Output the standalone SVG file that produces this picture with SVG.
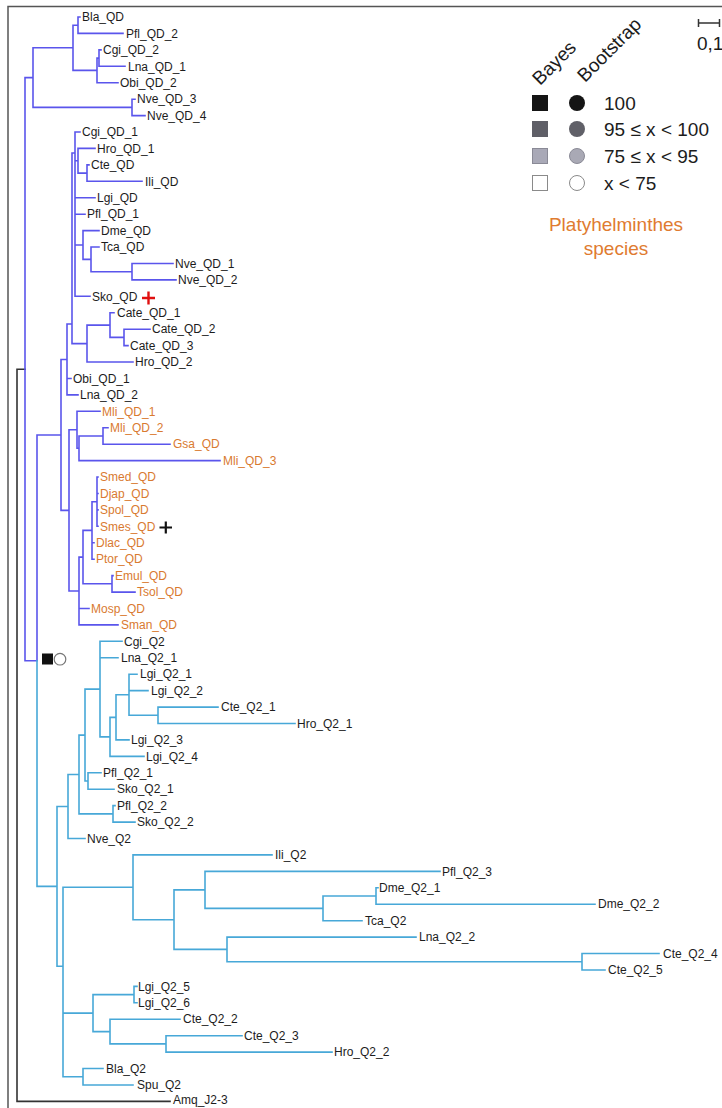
<svg xmlns="http://www.w3.org/2000/svg" width="722" height="1108" viewBox="0 0 722 1108">
<style>
text{font-family:"Liberation Sans",Arial,sans-serif}
.t{font-size:12px;fill:#1c1c1c}
.o{font-size:12px;fill:#d97a30}
.lg{font-size:19px;fill:#1c1c1c}
.sp{font-size:19px;fill:#e07b30;text-anchor:middle}
.qd{fill:none;stroke:#5a55ec;stroke-width:1.6;stroke-linecap:square}
.q2{fill:none;stroke:#47a8d8;stroke-width:1.6;stroke-linecap:square}
.rt{fill:none;stroke:#333;stroke-width:1.6;stroke-linecap:square}
</style>
<rect width="722" height="1108" fill="#fff"/>
<path d="M8,1108V6.5H722" fill="none" stroke="#555" stroke-width="1.5"/>
<g id="connectors">
<path class="rt" d="M17,369.2H25M17,369.2V1101.4H170"/>
<path class="qd" d="M25,77.6V660.7H37M25,77.6H33M33,47.8V107.4M33,47.8H73M73,25.2V70.4M73,25.2H78M78,17V33.4M78,17H80M78,33.4H123M73,70.4H97M97,58.1V82.7M97,58.1H99M99,49.9V66.3M99,49.9H101M99,66.3H125M97,82.7H118M33,107.4H132M132,99.2V115.6M132,99.2H135M132,115.6H145
M37,435V660.7M37,435H61M61,359.5V510.4M61,359.5H67M67,324V394.9M67,378.5H71M67,394.9H78M67,324H72M72,153V343.6M72,153H75M72,343.6H87
M87,325.1V362M87,325.1H110M110,312.7V337.4M110,312.7H114M110,337.4H124M124,329.2V345.6M124,329.2H150M124,345.6H128M87,362H133
M75,132V296.3M75,132H80M75,160.8H78M78,148.4V173.1M78,148.4H95M78,173.1H87M87,164.9V181.3M87,164.9H89M87,181.3H142M75,197.7H95M75,214.2H85M75,245H83M83,230.6V259.4M83,230.6H99M83,259.4H91M91,247V271.7M91,247H99M91,271.7H132M132,263.5V279.9M132,263.5H173M132,279.9H176M75,296.3H90
M61,510.4H69M69,429.8V591M69,429.8H77M77,411.3V448.3M77,411.3H100M77,448.3H79M79,436V460.6M79,436H103M103,427.8V444.2M103,427.8H108M103,444.2H170M79,460.6H220
M69,591H79M79,557.1V624.9M79,557.1H83M83,530.4V583.8M83,530.4H92M92,501.7V559.2M92,501.7H97M97,477V526.3M97,477H98M97,493.5H98M97,509.9H98M97,526.3H98M92,542.8H94M92,559.2H94M83,583.8H112M112,575.6V592.1M112,575.6H113M112,592.1H135M79,608.5H89M79,624.9H118"/>
<path class="q2" d="M37,660.7V886.4H57M57,806.5V966.2M57,806.5H68M68,774.5V838.5M68,838.5H85M68,774.5H79M79,735.1V813.9M79,735.1H85M85,689.1V781M85,689.1H100M100,641.3V736.9M100,641.3H122M100,657.8H118M100,736.9H110M110,717.4V756.4M110,756.4H144M110,717.4H116M116,694.8V739.9M116,739.9H129M116,694.8H129M129,674.2V715.3M129,674.2H137M129,690.6H148M129,715.3H158M158,707.1V723.5M158,707.1H218M158,723.5H295M85,781H88M88,772.8V789.2M88,772.8H101M88,789.2H114M79,813.9H113M113,805.6V822.1M113,805.6H115M113,822.1H135
M57,966.2H63M63,887.3V1076.8M63,887.3H133M133,854.9V919.7M133,854.9H272M133,919.7H174M174,889.9V949.4M174,889.9H205M205,871.4V908.4M205,871.4H440M205,908.4H323M323,896V920.7M323,896H376M376,887.8V904.2M376,887.8H378M376,904.2H595M323,920.7H362M174,949.4H227M227,937.1V961.8M227,937.1H416M227,961.8H582M582,953.5V970M582,953.5H659M582,970H605
M63,1013.1H93M93,994.6V1031.6M93,994.6H134M134,986.4V1002.8M134,986.4H137M134,1002.8H137M93,1031.6H110M110,1019.2V1043.9M110,1019.2H180M110,1043.9H166M166,1035.7V1052.1M166,1035.7H242M166,1052.1H332M63,1076.8H83M83,1068.5V1085M83,1068.5H103M83,1085H133"/>
</g>
<g id="support-node">
<rect x="42" y="653.5" width="11" height="11" fill="#111"/>
<circle cx="60" cy="659.2" r="5.8" fill="#fff" stroke="#777" stroke-width="1.2"/>
</g>
<g id="marks">
<path d="M142,298H155M148.5,291.5V304.5" stroke="#e01010" stroke-width="2.4" fill="none"/>
<path d="M159.5,527.5H172M165.8,521.5V533.5" stroke="#111" stroke-width="2.2" fill="none"/>
</g>
<g id="leaves">
<g id="n-Bla_QD"><text class="t" x="82" y="21.2">Bla_QD</text></g>
<g id="n-Pfl_QD_2"><text class="t" x="126" y="37.6">Pfl_QD_2</text></g>
<g id="n-Cgi_QD_2"><text class="t" x="103" y="54.1">Cgi_QD_2</text></g>
<g id="n-Lna_QD_1"><text class="t" x="128" y="70.5">Lna_QD_1</text></g>
<g id="n-Obi_QD_2"><text class="t" x="120" y="86.9">Obi_QD_2</text></g>
<g id="n-Nve_QD_3"><text class="t" x="137" y="103.4">Nve_QD_3</text></g>
<g id="n-Nve_QD_4"><text class="t" x="147" y="119.8">Nve_QD_4</text></g>
<g id="n-Cgi_QD_1"><text class="t" x="82" y="136.2">Cgi_QD_1</text></g>
<g id="n-Hro_QD_1"><text class="t" x="97" y="152.6">Hro_QD_1</text></g>
<g id="n-Cte_QD"><text class="t" x="91" y="169.1">Cte_QD</text></g>
<g id="n-Ili_QD"><text class="t" x="145" y="185.5">Ili_QD</text></g>
<g id="n-Lgi_QD"><text class="t" x="97" y="201.9">Lgi_QD</text></g>
<g id="n-Pfl_QD_1"><text class="t" x="87" y="218.4">Pfl_QD_1</text></g>
<g id="n-Dme_QD"><text class="t" x="101" y="234.8">Dme_QD</text></g>
<g id="n-Tca_QD"><text class="t" x="101" y="251.2">Tca_QD</text></g>
<g id="n-Nve_QD_1"><text class="t" x="175" y="267.7">Nve_QD_1</text></g>
<g id="n-Nve_QD_2"><text class="t" x="178" y="284.1">Nve_QD_2</text></g>
<g id="n-Sko_QD"><text class="t" x="92" y="300.5">Sko_QD</text></g>
<g id="n-Cate_QD_1"><text class="t" x="117" y="316.9">Cate_QD_1</text></g>
<g id="n-Cate_QD_2"><text class="t" x="152" y="333.4">Cate_QD_2</text></g>
<g id="n-Cate_QD_3"><text class="t" x="130" y="349.8">Cate_QD_3</text></g>
<g id="n-Hro_QD_2"><text class="t" x="135" y="366.2">Hro_QD_2</text></g>
<g id="n-Obi_QD_1"><text class="t" x="73" y="382.7">Obi_QD_1</text></g>
<g id="n-Lna_QD_2"><text class="t" x="80" y="399.1">Lna_QD_2</text></g>
<g id="n-Mli_QD_1"><text class="o" x="102" y="415.5">Mli_QD_1</text></g>
<g id="n-Mli_QD_2"><text class="o" x="110" y="432">Mli_QD_2</text></g>
<g id="n-Gsa_QD"><text class="o" x="173" y="448.4">Gsa_QD</text></g>
<g id="n-Mli_QD_3"><text class="o" x="223" y="464.8">Mli_QD_3</text></g>
<g id="n-Smed_QD"><text class="o" x="100" y="481.2">Smed_QD</text></g>
<g id="n-Djap_QD"><text class="o" x="100" y="497.7">Djap_QD</text></g>
<g id="n-Spol_QD"><text class="o" x="100" y="514.1">Spol_QD</text></g>
<g id="n-Smes_QD"><text class="o" x="100" y="530.5">Smes_QD</text></g>
<g id="n-Dlac_QD"><text class="o" x="96" y="547">Dlac_QD</text></g>
<g id="n-Ptor_QD"><text class="o" x="96" y="563.4">Ptor_QD</text></g>
<g id="n-Emul_QD"><text class="o" x="115" y="579.8">Emul_QD</text></g>
<g id="n-Tsol_QD"><text class="o" x="137" y="596.3">Tsol_QD</text></g>
<g id="n-Mosp_QD"><text class="o" x="91" y="612.7">Mosp_QD</text></g>
<g id="n-Sman_QD"><text class="o" x="121" y="629.1">Sman_QD</text></g>
<g id="n-Cgi_Q2"><text class="t" x="124" y="645.5">Cgi_Q2</text></g>
<g id="n-Lna_Q2_1"><text class="t" x="121" y="662">Lna_Q2_1</text></g>
<g id="n-Lgi_Q2_1"><text class="t" x="140" y="678.4">Lgi_Q2_1</text></g>
<g id="n-Lgi_Q2_2"><text class="t" x="151" y="694.8">Lgi_Q2_2</text></g>
<g id="n-Cte_Q2_1"><text class="t" x="221" y="711.3">Cte_Q2_1</text></g>
<g id="n-Hro_Q2_1"><text class="t" x="297" y="727.7">Hro_Q2_1</text></g>
<g id="n-Lgi_Q2_3"><text class="t" x="131" y="744.1">Lgi_Q2_3</text></g>
<g id="n-Lgi_Q2_4"><text class="t" x="146" y="760.6">Lgi_Q2_4</text></g>
<g id="n-Pfl_Q2_1"><text class="t" x="103" y="777">Pfl_Q2_1</text></g>
<g id="n-Sko_Q2_1"><text class="t" x="117" y="793.4">Sko_Q2_1</text></g>
<g id="n-Pfl_Q2_2"><text class="t" x="117" y="809.8">Pfl_Q2_2</text></g>
<g id="n-Sko_Q2_2"><text class="t" x="137" y="826.3">Sko_Q2_2</text></g>
<g id="n-Nve_Q2"><text class="t" x="87" y="842.7">Nve_Q2</text></g>
<g id="n-Ili_Q2"><text class="t" x="275" y="859.1">Ili_Q2</text></g>
<g id="n-Pfl_Q2_3"><text class="t" x="442" y="875.6">Pfl_Q2_3</text></g>
<g id="n-Dme_Q2_1"><text class="t" x="379" y="892">Dme_Q2_1</text></g>
<g id="n-Dme_Q2_2"><text class="t" x="598" y="908.4">Dme_Q2_2</text></g>
<g id="n-Tca_Q2"><text class="t" x="365" y="924.9">Tca_Q2</text></g>
<g id="n-Lna_Q2_2"><text class="t" x="419" y="941.3">Lna_Q2_2</text></g>
<g id="n-Cte_Q2_4"><text class="t" x="663" y="957.7">Cte_Q2_4</text></g>
<g id="n-Cte_Q2_5"><text class="t" x="608" y="974.2">Cte_Q2_5</text></g>
<g id="n-Lgi_Q2_5"><text class="t" x="138" y="990.6">Lgi_Q2_5</text></g>
<g id="n-Lgi_Q2_6"><text class="t" x="138" y="1007">Lgi_Q2_6</text></g>
<g id="n-Cte_Q2_2"><text class="t" x="183" y="1023.4">Cte_Q2_2</text></g>
<g id="n-Cte_Q2_3"><text class="t" x="244" y="1039.9">Cte_Q2_3</text></g>
<g id="n-Hro_Q2_2"><text class="t" x="334" y="1056.3">Hro_Q2_2</text></g>
<g id="n-Bla_Q2"><text class="t" x="106" y="1072.7">Bla_Q2</text></g>
<g id="n-Spu_Q2"><text class="t" x="137" y="1089.2">Spu_Q2</text></g>
<g id="n-Amq_J2-3"><text class="t" x="173" y="1104.4">Amq_J2-3</text></g>
</g>
<g id="legend">
<text class="lg" x="540" y="86" transform="rotate(-45 540 86)">Bayes</text>
<text class="lg" x="585" y="83" transform="rotate(-45 585 83)">Bootstrap</text>
<rect x="532" y="95" width="16" height="16" fill="#151515"/>
<circle cx="577" cy="103" r="8" fill="#151515"/>
<text class="lg" x="604" y="110">100</text>
<rect x="532" y="121" width="16" height="16" fill="#5f5f67"/>
<circle cx="577" cy="129" r="8" fill="#606068"/>
<text class="lg" x="604" y="136">95 ≤ x &lt; 100</text>
<rect x="532.5" y="148.5" width="15" height="15" fill="#a9a9b7" stroke="#8a8a96"/>
<circle cx="577" cy="156" r="7.5" fill="#a9a9b5" stroke="#8a8a96"/>
<text class="lg" x="604" y="163">75 ≤ x &lt; 95</text>
<rect x="532.5" y="175.5" width="15" height="15" fill="#fff" stroke="#8a8a8a"/>
<circle cx="577" cy="183" r="7.5" fill="#fff" stroke="#8a8a8a"/>
<text class="lg" x="604" y="190">x &lt; 75</text>
<text class="sp" x="616" y="231">Platyhelminthes</text>
<text class="sp" x="616" y="255">species</text>
</g>
<g id="scale">
<path d="M698,23H720M698.5,19V27M719.5,19V27" stroke="#333" stroke-width="1.5" fill="none"/>
<text class="lg" x="697" y="50">0,1</text>
</g>
</svg>
